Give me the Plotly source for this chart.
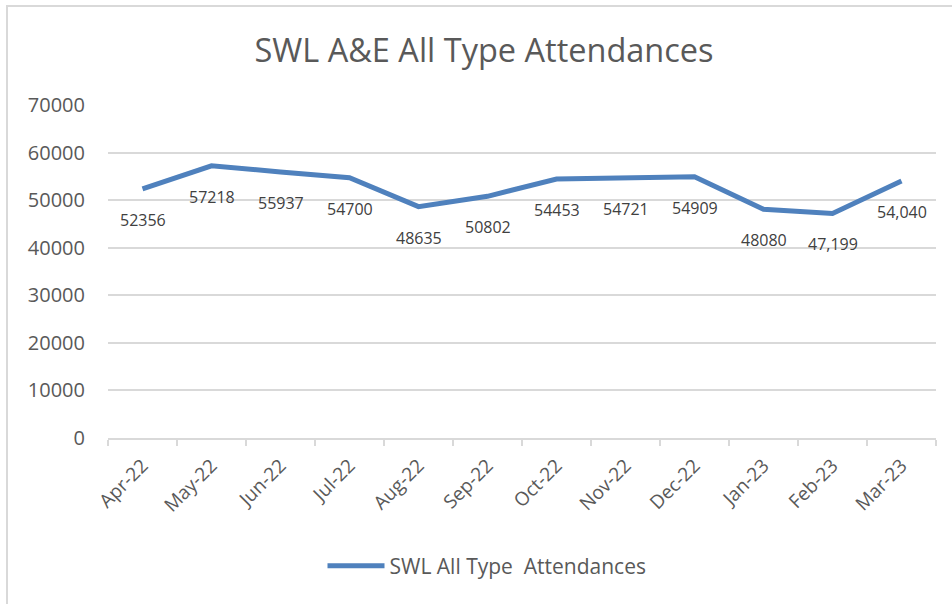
import plotly.graph_objects as go

months = ["Apr-22", "May-22", "Jun-22", "Jul-22", "Aug-22", "Sep-22",
          "Oct-22", "Nov-22", "Dec-22", "Jan-23", "Feb-23", "Mar-23"]
attendances = [52356, 57218, 55937, 54700, 48635, 50802,
               54453, 54721, 54909, 48080, 47199, 54040]
value_labels = ["52356", "57218", "55937", "54700", "48635", "50802",
                "54453", "54721", "54909", "48080", "47,199", "54,040"]
y_ticks = [0, 10000, 20000, 30000, 40000, 50000, 60000, 70000]

FONT = "Open Sans, Lato, sans-serif"
GREY = "#595959"
LINE_BLUE = "#4F81BD"
GRID = "#D9D9D9"

fig = go.Figure()
fig.add_trace(go.Scatter(
    x=months, y=attendances, mode="lines",
    name="SWL All Type  Attendances",
    line=dict(color=LINE_BLUE, width=5),
    hoverinfo="x+y",
))

for m, v, lab in zip(months, attendances, value_labels):
    fig.add_annotation(x=m, y=v, text=lab, showarrow=False,
                       yshift=-31, font=dict(family=FONT, size=16, color="#404040"))

W, H = 952, 604
L, R, T, B = 108, 16, 105, 166
pw, ph = W - L - R, H - T - B

def px_x(x):
    return (x - L) / pw

def px_y(y):
    return (H - B - y) / ph

# chart border (left and top edges visible)
fig.add_shape(type="line", xref="paper", yref="paper",
              x0=px_x(7), x1=px_x(7), y0=px_y(6), y1=px_y(610),
              line=dict(color=GRID, width=2))
fig.add_shape(type="line", xref="paper", yref="paper",
              x0=px_x(6), x1=px_x(960), y0=px_y(6), y1=px_y(6),
              line=dict(color=GRID, width=2))

fig.update_layout(
    width=W, height=H,
    margin=dict(l=L, r=R, t=T, b=B),
    paper_bgcolor="white", plot_bgcolor="white",
    title=dict(text="SWL A&E All Type Attendances", x=484 / W, xanchor="center",
               xref="container", y=(H - 51) / H, yanchor="middle",
               font=dict(family=FONT, size=32.5, color=GREY)),
    font=dict(family=FONT, color=GREY),
    showlegend=True,
    legend=dict(orientation="h", x=px_x(487), xanchor="center", y=px_y(566),
                yanchor="middle", font=dict(family=FONT, size=21, color=GREY),
                itemwidth=57),
    xaxis=dict(
        type="category", categoryorder="array", categoryarray=months,
        tickangle=-45, tickfont=dict(family=FONT, size=19, color=GREY),
        showgrid=False, showline=True, linecolor=GRID, linewidth=2,
        ticks="outside", tickson="boundaries", ticklen=6, tickcolor=GRID,
        tickwidth=2, range=[-0.5, 11.5], ticklabelstandoff=7,
    ),
    yaxis=dict(
        range=[0, 70000], tickvals=y_ticks, ticktext=[str(t) for t in y_ticks],
        tickfont=dict(family=FONT, size=20, color=GREY),
        showgrid=True, gridcolor=GRID, gridwidth=1.5, zeroline=False,
        showline=False, ticks="", ticklabelstandoff=22,
    ),
)

fig.write_html("out.html", config={"displayModeBar": False},
               post_script="document.body.style.margin='0';")
